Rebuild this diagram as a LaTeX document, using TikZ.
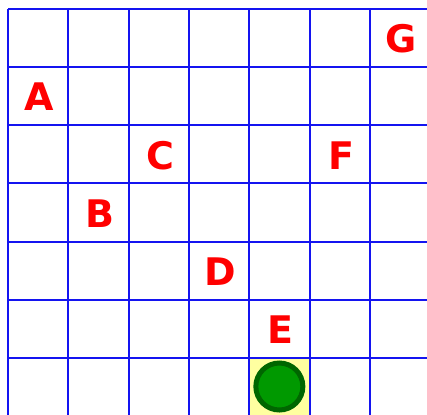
\documentclass[tikz,border=0pt]{standalone}
\usepackage{fontspec}
\setsansfont{DejaVu Sans}
\begin{document}
\begin{tikzpicture}[x=1pt,y=-1pt,
  gridline/.style={draw={rgb,255:red,20;green,20;blue,240},line width=2pt},
  letter/.style={text={rgb,255:red,255;green,0;blue,0},font=\sffamily\bfseries\fontsize{38}{38}\selectfont,inner sep=0pt,anchor=center,xshift=1.5pt,yshift=-1pt}]
\useasboundingbox (0,0) rectangle (427,414);
\clip (0,0) rectangle (427,414);
\def\cw{60.3}
\def\ch{58.2}
% yellow cell
\fill[fill={rgb,255:red,255;green,255;blue,160}] (8+4*\cw,8.7+6*\ch) rectangle (8+5*\cw,8.7+7*\ch);
% grid
\foreach \i in {0,...,7} {
  \draw[gridline] (8+\i*\cw,8.7) -- (8+\i*\cw,430);
}
\foreach \j in {0,...,7} {
  \draw[gridline] (8,8.7+\j*\ch) -- (440,8.7+\j*\ch);
}
% letters
\node[letter] (G) at (8+6.5*\cw,8.7+0.5*\ch) {G};
\node[letter] (A) at (8+0.5*\cw,8.7+1.5*\ch) {A};
\node[letter] (C) at (8+2.5*\cw,8.7+2.5*\ch) {C};
\node[letter] (F) at (8+5.5*\cw,8.7+2.5*\ch) {F};
\node[letter] (B) at (8+1.5*\cw,8.7+3.5*\ch) {B};
\node[letter] (D) at (8+3.5*\cw,8.7+4.5*\ch) {D};
\node[letter] (E) at (8+4.5*\cw,8.7+5.5*\ch) {E};
% agent
\draw[fill={rgb,255:red,0;green,153;blue,0},draw={rgb,255:red,0;green,102;blue,0},line width=5pt] (8+4.5*\cw,386.5) circle (23.5);
\end{tikzpicture}
\end{document}
